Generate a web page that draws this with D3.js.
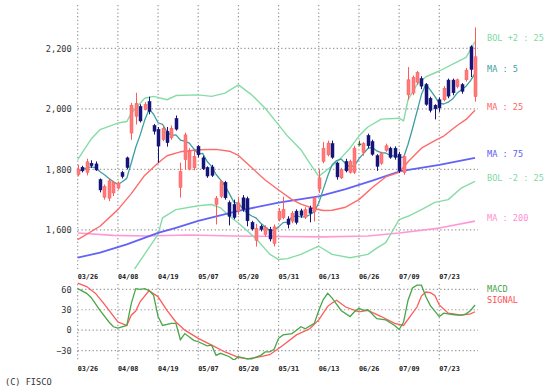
<!DOCTYPE html>
<html><head><meta charset="utf-8">
<script src="https://cdn.jsdelivr.net/npm/d3@7"></script>
<style>html,body{margin:0;padding:0;background:#fff;} svg{display:block;}</style>
</head><body>
<svg id="c" width="550" height="391"></svg>
<script>
// ---------- data ----------
const dateTicks = ["03/26","04/08","04/19","05/07","05/20","05/31","06/13","06/26","07/09","07/23"];
const dateTickIdx = [0,9,18,27,36,45,54,63,72,81];
const priceTicks = [1600,1800,2000,2200];
const macdTicks = [-30,0,30,60];

const open = [1783,1807,1790,1820,1818,1766,1708,1705,1722,1738,
1790,1838,1920,1975,2008,1998,2024,1945,1932,1898,
1926,1904,1968,1740,1832,1800,1805,1876,1838,1806,
1808,1684,1711,1757,1690,1684,1662,1706,1703,1625,
1565,1612,1585,1602,1555,1634,1640,1636,1629,1662,
1663,1642,1672,1660,1735,1826,1848,1885,1821,1772,
1826,1790,1790,1884,1855,1912,1892,1845,1820,1862,
1870,1870,1850,1790,2046,2052,2088,2100,2080,2035,
2012,2030,2030,2095,2095,2073,2080,2096,2205,2040];
const high = [1815,1812,1835,1830,1826,1770,1750,1770,1762,1760,
1795,1842,2020,2053,2015,2022,2040,1950,1940,1945,
1940,1945,1978,1822,1921,1870,1865,1880,1845,1810,
1815,1712,1765,1762,1697,1700,1710,1715,1710,1630,
1620,1618,1615,1610,1618,1672,1710,1645,1662,1668,
1670,1675,1680,1712,1800,1890,1895,1895,1825,1805,
1835,1832,1878,1895,1890,1918,1898,1850,1858,1885,
1875,1876,1858,1848,2138,2110,2125,2108,2085,2040,
2015,2038,2075,2100,2100,2100,2085,2135,2210,2269];
const low = [1777,1790,1780,1805,1795,1724,1700,1695,1712,1733,
1770,1800,1898,1948,1955,1995,1982,1915,1822,1893,
1875,1898,1928,1707,1800,1797,1797,1840,1798,1772,
1775,1618,1705,1700,1615,1635,1650,1660,1612,1598,
1545,1595,1578,1562,1545,1628,1635,1605,1622,1618,
1640,1636,1625,1628,1722,1820,1843,1835,1766,1768,
1790,1786,1785,1878,1845,1870,1845,1795,1815,1858,
1835,1832,1788,1782,2030,2045,2080,2065,2010,1988,
1965,1990,2025,2035,2045,2068,2050,2090,2105,2024];
const close = [1801,1795,1825,1812,1798,1732,1744,1762,1757,1755,
1776,1806,2012,2018,1960,2014,1992,1926,1877,1935,
1888,1936,1933,1793,1914,1859,1843,1848,1802,1778,
1780,1705,1760,1706,1645,1641,1689,1668,1630,1603,
1605,1602,1608,1570,1610,1662,1668,1618,1655,1625,
1648,1667,1655,1705,1772,1870,1887,1840,1775,1799,
1795,1826,1870,1884,1885,1878,1850,1810,1852,1878,
1840,1840,1795,1842,2096,2104,2120,2075,2015,1995,
2000,2003,2068,2042,2053,2096,2058,2128,2130,2172];

const ma5 = [1795,1798,1805,1808,1806,1792,1782,1770,1759,1750,
1759,1771,1821,1873,1914,1962,1999,1982,1954,1949,
1924,1912,1914,1897,1893,1887,1868,1851,1853,1826,
1810,1783,1765,1746,1719,1691,1688,1670,1655,1646,
1639,1622,1610,1598,1599,1610,1624,1626,1643,1646,
1643,1643,1650,1660,1689,1734,1778,1815,1829,1834,
1819,1807,1813,1835,1852,1869,1873,1861,1855,1854,
1846,1844,1841,1839,1883,1935,1991,2047,2082,2062,
2041,2018,2016,2022,2033,2052,2063,2075,2093,2117];

const ma25 = [[0,1568],[5,1612],[9,1667],[12,1720],[15,1780],[18,1821],[20,1845],[23,1858],[27,1865],[31,1866],[34,1860],[36,1846],[39,1805],[42,1765],[45,1732],[48,1700],[50,1685],[53,1670],[55,1664],[57,1665],[60,1675],[63,1700],[66,1740],[69,1775],[72,1790],[74,1825],[77,1870],[80,1895],[82,1910],[85,1945],[87,1965],[89,1995]];
const ma75 = [[0,1508],[5,1525],[11,1552],[18,1590],[22,1607],[27,1630],[36,1663],[45,1690],[54,1711],[60,1735],[66,1763],[72,1793],[81,1815],[89,1838]];
const ma200 = [[0,1590],[8,1582],[15,1580],[25,1583],[35,1580],[45,1578],[55,1577],[65,1580],[72,1590],[81,1606],[89,1629]];
const bolUp = [[0,1832],[3,1900],[5,1931],[9,1953],[11,1958],[12,1985],[15,2035],[17,2041],[20,2030],[22,2044],[27,2046],[30,2041],[33,2052],[36,2079],[39,2046],[42,2002],[45,1947],[47,1910],[50,1865],[52,1820],[54,1777],[57,1812],[59,1838],[61,1870],[63,1910],[65,1940],[68,1966],[72,1969],[73,1960],[74,2030],[76,2080],[78,2106],[81,2125],[85,2155],[87,2170],[89,2222]];
const bolDn = [[0,1304],[5,1293],[9,1381],[12,1455],[15,1520],[18,1585],[19,1640],[22,1667],[27,1680],[30,1684],[32,1673],[34,1645],[36,1623],[40,1570],[43,1520],[45,1502],[47,1505],[50,1519],[53,1540],[54,1546],[57,1519],[61,1508],[65,1519],[67,1540],[69,1558],[72,1634],[74,1645],[77,1667],[80,1691],[83,1700],[86,1739],[89,1760]];

const macd = [[0,61],[2,54],[3,48],[5,29],[7,12],[8,5],[9,3],[11,7],[12,39],[13,61],[14,60],[15,61],[16,58],[17,51],[18,20],[19,7],[21,10],[22,10],[23,-14],[24,-5],[26,-15],[27,-17],[29,-23],[30,-22],[31,-37],[32,-34],[34,-39],[35,-44],[36,-39],[38,-42],[39,-42],[41,-37],[42,-32],[43,-32],[44,-28],[45,-12],[46,-7],[48,-5],[49,0],[50,5],[51,2],[53,10],[54,29],[55,45],[56,54],[57,47],[59,29],[61,20],[62,27],[63,32],[64,29],[65,30],[67,17],[69,15],[71,7],[72,1],[73,12],[74,44],[75,62],[76,66],[77,66],[78,49],[79,36],[80,28],[81,20],[82,25],[83,24],[84,23],[85,22],[86,22],[87,24],[88,29],[89,37]];
const signal = [[0,69],[2,64],[4,54],[6,38],[9,12],[11,7],[12,22],[13,28],[14,42],[16,58],[18,49],[20,29],[22,12],[24,0],[27,-12],[30,-22],[33,-32],[36,-40],[38,-42],[41,-39],[43,-36],[45,-27],[46,-22],[49,-7],[52,2],[54,15],[56,35],[57,40],[58,44],[60,34],[63,27],[65,29],[68,20],[71,10],[73,7],[76,34],[77,50],[78,56],[79,55],[80,51],[81,37],[83,25],[86,22],[88,24],[89,27]];

const legendMain = [["BOL +2 : 25",2235,"#7fd9a2"],["MA : 5",2130,"#3f9f9f"],["MA : 25",2005,"#ff6666"],["MA : 75",1850,"#5e5ef5"],["BOL -2 : 25",1772,"#7fd9a2"],["MA : 200",1640,"#ff8fd2"]];
const legendMacd = [["MACD",60,"#47a447"],["SIGNAL",44,"#ff4f4f"]];

// ---------- scales ----------
const svg = d3.select("#c");
const x = d3.scaleLinear().domain([0,81]).range([77.7,439.3]);
const y = d3.scaleLinear().domain([1600,2200]).range([229.9,48.3]);
const ym = d3.scaleLinear().domain([-30,60]).range([350.6,289.3]);
const mainTop = 5, mainBot = 269, mTop = 284, mBot = 360, xRight = 478;

svg.append("rect").attr("width",550).attr("height",391).attr("fill","#fff");
const defs = svg.append("defs");
defs.append("clipPath").attr("id","cm").append("rect").attr("x",60).attr("y",mainTop).attr("width",430).attr("height",mainBot-mainTop);
defs.append("clipPath").attr("id","cd").append("rect").attr("x",60).attr("y",mTop-3).attr("width",430).attr("height",mBot-mTop+3);

const gridStyle = s => s.attr("stroke","#9a9a9a").attr("stroke-width",1.2).attr("stroke-dasharray","1.3,2.4");
// grids
const g = svg.append("g");
dateTickIdx.forEach(i=>{
  gridStyle(g.append("line").attr("x1",x(i)).attr("x2",x(i)).attr("y1",mainTop).attr("y2",mainBot));
  gridStyle(g.append("line").attr("x1",x(i)).attr("x2",x(i)).attr("y1",mTop).attr("y2",mBot));
});
priceTicks.forEach(v=> gridStyle(g.append("line").attr("x1",x(0)).attr("x2",xRight).attr("y1",y(v)).attr("y2",y(v))));
macdTicks.forEach(v=> gridStyle(g.append("line").attr("x1",x(0)).attr("x2",xRight).attr("y1",ym(v)).attr("y2",ym(v))));

// axes labels
const font = "'DejaVu Sans Mono', monospace";
const ay = svg.append("g").attr("transform",`translate(${x(0)},0)`)
  .call(d3.axisLeft(y).tickValues(priceTicks).tickFormat(d3.format(",")).tickSize(0).tickPadding(6));
ay.select(".domain").remove();
ay.selectAll("text").attr("font-family",font).attr("font-size",8.6).attr("fill","#333");
const am = svg.append("g").attr("transform",`translate(${x(0)},0)`)
  .call(d3.axisLeft(ym).tickValues(macdTicks).tickSize(0).tickPadding(6));
am.select(".domain").remove();
am.selectAll("text").attr("font-family",font).attr("font-size",8.6).attr("fill","#333");

[277, 369].forEach(yy=>{
  svg.append("g").selectAll("text").data(dateTicks).join("text")
    .attr("x",(d,k)=>x(dateTickIdx[k])).attr("y",yy).attr("dy","0.35em")
    .attr("font-family",font).attr("font-size",6.8).attr("font-weight","bold").attr("fill","#222")
    .text(d=>d);
});

// lines
const lm = svg.append("g").attr("clip-path","url(#cm)");
const line = d3.line().x(d=>x(d[0])).y(d=>y(d[1]));
const addLine = (data,color,w)=> lm.append("path").attr("d",line(data)).attr("fill","none").attr("stroke",color).attr("stroke-width",w).attr("stroke-linejoin","round");
addLine(ma200,"#ff99d6",1.6);
addLine(bolUp,"#86dca8",1.4);
addLine(bolDn,"#86dca8",1.4);
addLine(ma75,"#6262f7",1.8);
addLine(ma25,"#ff6a6a",1.4);

// candles
const cg = svg.append("g").attr("clip-path","url(#cm)");
const idx = d3.range(close.length);
const colOf = i => close[i] > open[i] ? "up" : (close[i] < open[i] ? "dn" : "eq");
const col = {up:"#ff5a5a", dn:"#16167a", eq:"#2f6b2f"};
cg.selectAll("line.w").data(idx).join("line")
  .attr("x1",i=>Math.round(x(i))+0.5).attr("x2",i=>Math.round(x(i))+0.5)
  .attr("y1",i=>y(high[i])).attr("y2",i=>y(low[i]))
  .attr("stroke",i=>col[colOf(i)]).attr("stroke-width",1);
cg.selectAll("rect.b").data(idx).join("rect")
  .attr("x",i=>Math.round(x(i))-1).attr("width",3)
  .attr("y",i=>y(Math.max(open[i],close[i])))
  .attr("height",i=>Math.max(1,Math.abs(y(open[i])-y(close[i]))))
  .attr("fill",i=>colOf(i)==="up"?"#ff7b7b":col[colOf(i)])
  .attr("stroke",i=>col[colOf(i)]).attr("stroke-width",0.5);

addLine(ma5.map((v,i)=>[i,v]),"#3f9f9f",1.3);

// MACD
const mg = svg.append("g").attr("clip-path","url(#cd)");
const mline = d3.line().x(d=>x(d[0])).y(d=>ym(d[1]));
mg.append("path").attr("d",mline(signal)).attr("fill","none").attr("stroke","#ff5a5a").attr("stroke-width",1.3);
mg.append("path").attr("d",mline(macd)).attr("fill","none").attr("stroke","#4aa64a").attr("stroke-width",1.3);

// legends
svg.append("g").selectAll("text").data(legendMain).join("text")
  .attr("x",487).attr("y",d=>y(d[1])).attr("dy","0.35em")
  .attr("font-family",font).attr("font-size",8.6).attr("fill",d=>d[2]).text(d=>d[0]);
svg.append("g").selectAll("text").data(legendMacd).join("text")
  .attr("x",487).attr("y",d=>ym(d[1])).attr("dy","0.35em")
  .attr("font-family",font).attr("font-size",8.6).attr("fill",d=>d[2]).text(d=>d[0]);

svg.append("text").attr("x",5).attr("y",382).attr("dy","0.35em")
  .attr("font-family",font).attr("font-size",8.6).attr("fill","#333").text("(C) FISCO");
</script>
</body></html>
